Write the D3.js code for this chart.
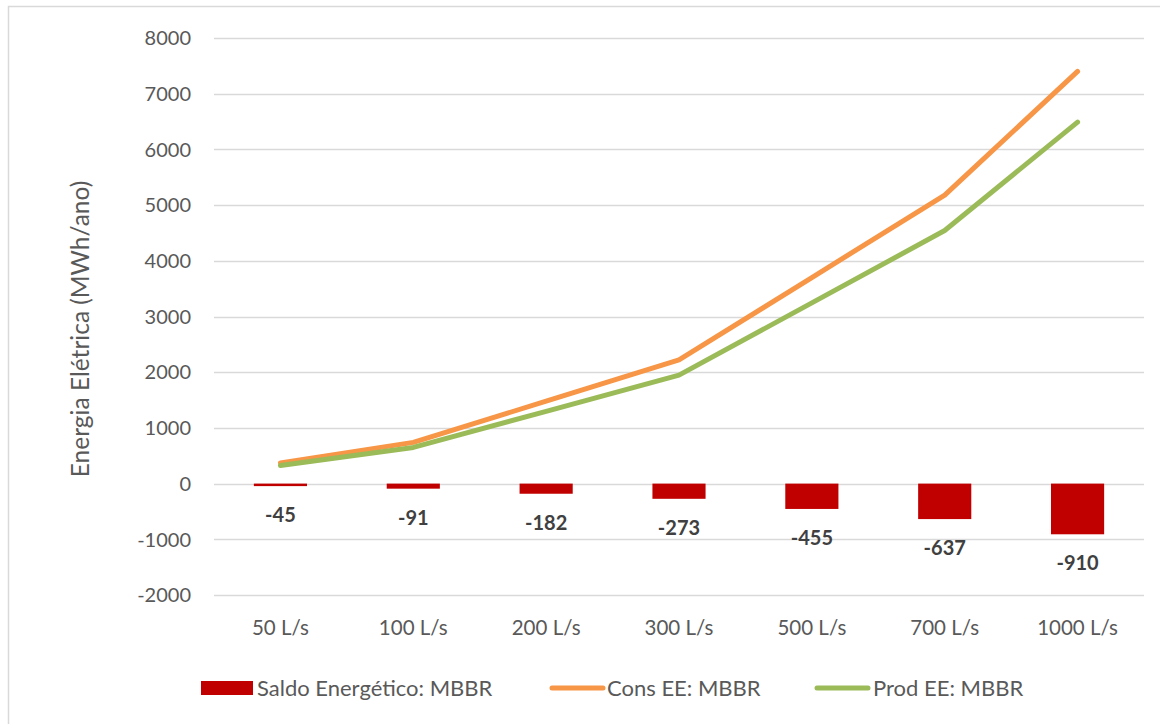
<!DOCTYPE html>
<html>
<head>
<meta charset="utf-8">
<script src="https://cdn.jsdelivr.net/npm/d3@7"></script>
<style>
  html, body { margin: 0; padding: 0; background: #fff; }
  svg text { font-family: Lato, "Open Sans", sans-serif; }
</style>
</head>
<body>
<svg id="chart" width="1160" height="724"></svg>
<script>
const categories = ["50 L/s", "100 L/s", "200 L/s", "300 L/s", "500 L/s", "700 L/s", "1000 L/s"];
const saldo = [-45, -91, -182, -273, -455, -637, -910];
const consEE = [370, 740, 1480, 2220, 3700, 5180, 7400];
const prodEE = [325, 649, 1298, 1947, 3245, 4543, 6490];
const yTicks = [-2000, -1000, 0, 1000, 2000, 3000, 4000, 5000, 6000, 7000, 8000];
const seriesNames = ["Saldo Energético: MBBR", "Cons EE: MBBR", "Prod EE: MBBR"];
const yTitle = "Energia Elétrica (MWh/ano)";

const colors = { saldo: "#C00000", cons: "#F79646", prod: "#9BBB59", text: "#595959", label: "#404040", grid: "#D9D9D9" };

const svg = d3.select("#chart");

// chart border
svg.append("rect").attr("x", 8.5).attr("y", 6.5).attr("width", 1200).attr("height", 800)
  .attr("fill", "none").attr("stroke", "#D9D9D9").attr("stroke-width", 1.5);

const x = d3.scaleBand().domain(categories).range([214, 1144]).padding(0);
const y = d3.scaleLinear().domain([-2000, 8000]).range([595, 38]);

// gridlines
svg.append("g").selectAll("line").data(yTicks).join("line")
  .attr("x1", 214).attr("x2", 1144)
  .attr("y1", d => Math.round(y(d)) + 0.5).attr("y2", d => Math.round(y(d)) + 0.5)
  .attr("stroke", colors.grid).attr("stroke-width", 1.3);

// y tick labels
svg.append("g").selectAll("text").data(yTicks).join("text")
  .attr("x", 191).attr("y", d => y(d)).attr("dy", "0.36em")
  .attr("text-anchor", "end").attr("font-size", 20).attr("fill", colors.text)
  .text(d => d);

// x labels
svg.append("g").selectAll("text").data(categories).join("text")
  .attr("x", d => x(d) + x.bandwidth() / 2).attr("y", 628).attr("dy", "0.36em")
  .attr("text-anchor", "middle").attr("font-size", 20.5).attr("fill", colors.text)
  .text(d => d);

// y title
svg.append("text")
  .attr("transform", `translate(80, 329) rotate(-90)`)
  .attr("text-anchor", "middle").attr("dy", "0.36em")
  .attr("font-size", 24.5).attr("fill", colors.text)
  .text(yTitle);

// bars
const barW = x.bandwidth() * 0.4;
svg.append("g").selectAll("rect").data(saldo).join("rect")
  .attr("x", (d, i) => x(categories[i]) + (x.bandwidth() - barW) / 2)
  .attr("y", d => y(Math.max(0, d)))
  .attr("width", barW)
  .attr("height", d => Math.abs(y(d) - y(0)))
  .attr("fill", colors.saldo);

// lines
const line = d3.line().x((d, i) => x(categories[i]) + x.bandwidth() / 2).y(d => y(d));
svg.append("path").datum(consEE).attr("d", line)
  .attr("fill", "none").attr("stroke", colors.cons).attr("stroke-width", 5)
  .attr("stroke-linecap", "round").attr("stroke-linejoin", "round");
svg.append("path").datum(prodEE).attr("d", line)
  .attr("fill", "none").attr("stroke", colors.prod).attr("stroke-width", 5)
  .attr("stroke-linecap", "round").attr("stroke-linejoin", "round");

// data labels
svg.append("g").selectAll("text").data(saldo).join("text")
  .attr("x", (d, i) => x(categories[i]) + x.bandwidth() / 2)
  .attr("y", d => y(d) + 29).attr("dy", "0.36em")
  .attr("text-anchor", "middle").attr("font-size", 20).attr("font-weight", "bold")
  .attr("fill", colors.label)
  .text(d => d);

// legend
const lg = svg.append("g");
const ly = 688;
lg.append("rect").attr("x", 201).attr("y", ly - 7).attr("width", 52).attr("height", 14).attr("fill", colors.saldo);
lg.append("text").attr("x", 257).attr("y", ly).attr("dy", "0.36em").attr("font-size", 22).attr("fill", colors.text).text(seriesNames[0]);
lg.append("line").attr("x1", 552).attr("x2", 603).attr("y1", ly).attr("y2", ly)
  .attr("stroke", colors.cons).attr("stroke-width", 5).attr("stroke-linecap", "round");
lg.append("text").attr("x", 607).attr("y", ly).attr("dy", "0.36em").attr("font-size", 22).attr("fill", colors.text).text(seriesNames[1]);
lg.append("line").attr("x1", 817).attr("x2", 868).attr("y1", ly).attr("y2", ly)
  .attr("stroke", colors.prod).attr("stroke-width", 5).attr("stroke-linecap", "round");
lg.append("text").attr("x", 873).attr("y", ly).attr("dy", "0.36em").attr("font-size", 22).attr("fill", colors.text).text(seriesNames[2]);
</script>
</body>
</html>
